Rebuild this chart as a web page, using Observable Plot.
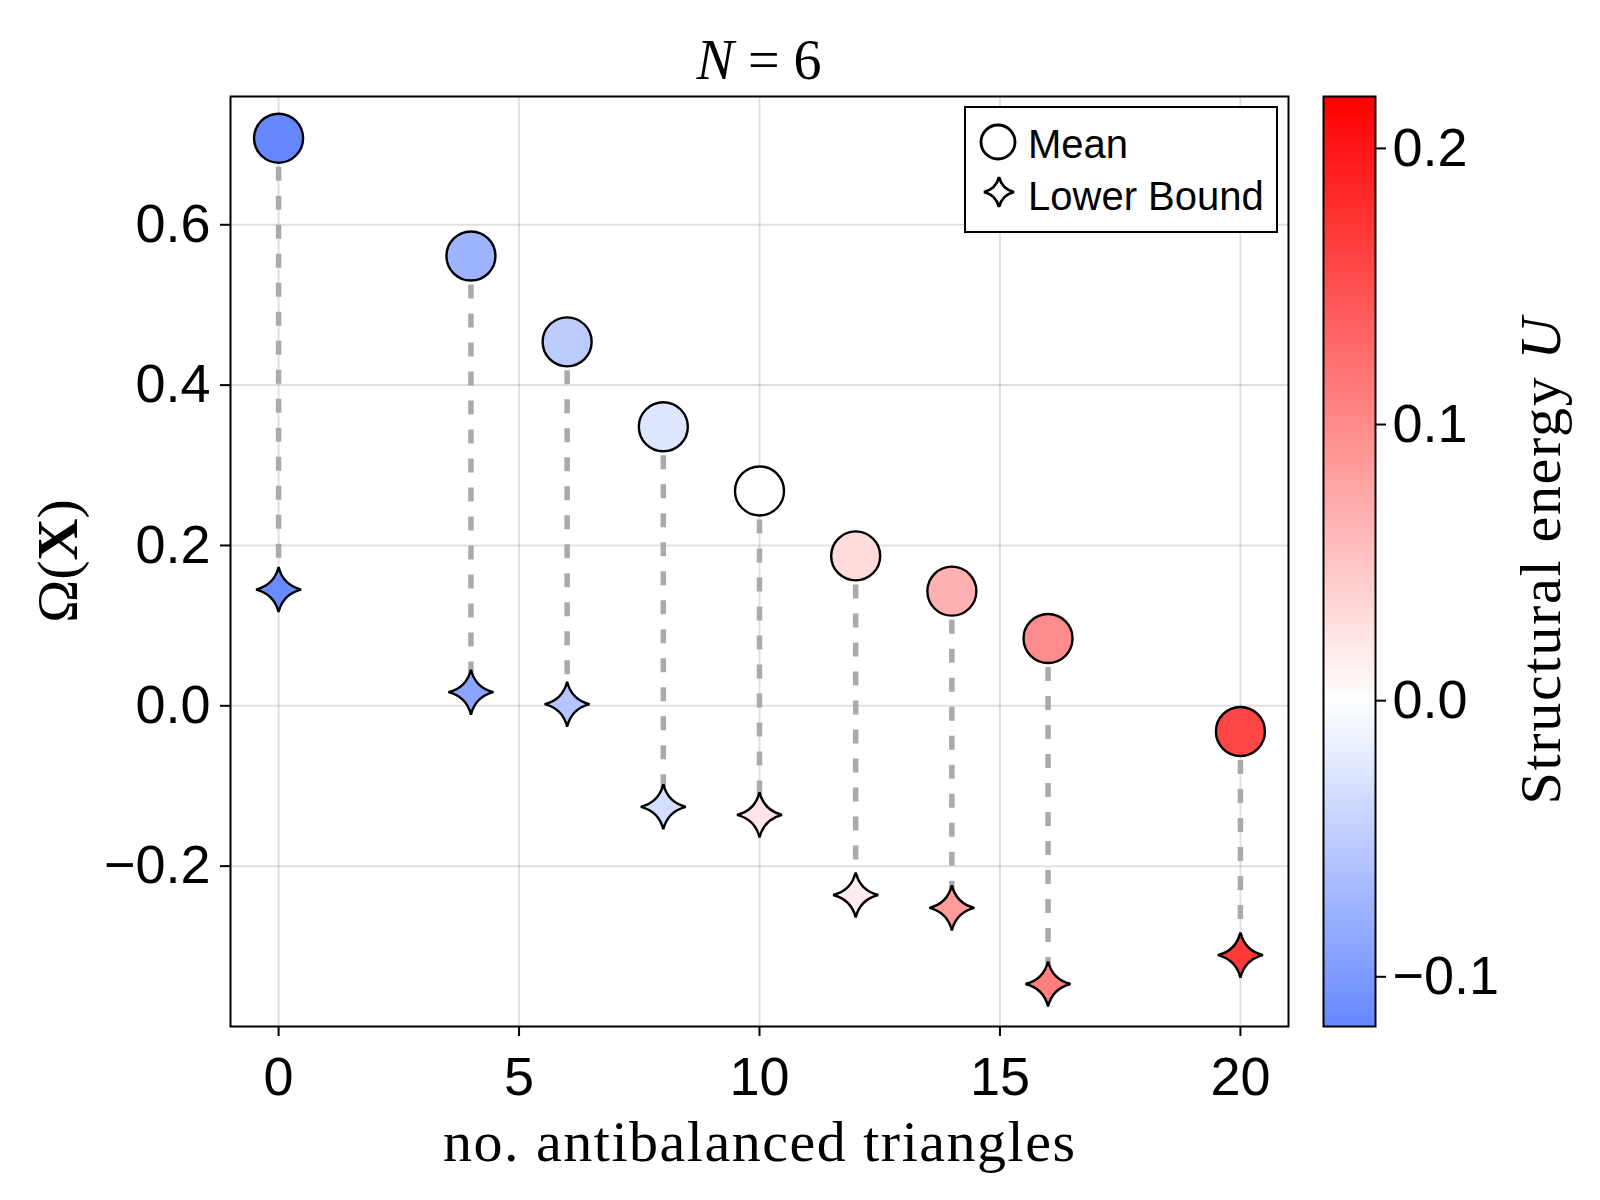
<!DOCTYPE html>
<html>
<head>
<meta charset="utf-8">
<script src="https://cdn.jsdelivr.net/npm/d3@7"></script>
<script src="https://cdn.jsdelivr.net/npm/@observablehq/plot@0.6"></script>
<style>
  html, body { margin: 0; padding: 0; background: #fff; }
  #chart { position: relative; width: 1600px; height: 1200px; background: #fff; }
  #chart svg { position: absolute; top: 0; }
</style>
</head>
<body>
<div id="chart"></div>
<script>
// ---- data ----
const nAnti      = [0, 4, 6, 8, 10, 12, 14, 16, 20];
const meanOmega  = [0.708, 0.561, 0.454, 0.348, 0.268, 0.187, 0.143, 0.084, -0.032];
const lowerOmega = [0.145, 0.017, 0.002, -0.126, -0.136, -0.236, -0.252, -0.347, -0.311];
const meanU      = [-0.118, -0.074, -0.051, -0.026, 0.000, 0.031, 0.067, 0.099, 0.160];
const lowerU     = [-0.115, -0.090, -0.058, -0.033, 0.023, 0.016, 0.086, 0.110, 0.171];

const xTicks  = [0, 5, 10, 15, 20];
const yTicks  = [-0.2, 0.0, 0.2, 0.4, 0.6];
const cbTicks = [-0.1, 0.0, 0.1, 0.2];
const xDomain = [-1, 21];
const yDomain = [-0.4, 0.76];
const uDomain = [-0.118, 0, 0.2188];
const uColors = ["#6688ff", "#ffffff", "#ff0000"];

const titleText = "N = 6";
const xLabel = "no. antibalanced triangles";
const cbLabel = "Structural energy ";
const legendLabels = ["Mean", "Lower Bound"];

const rows = nAnti.map((n, i) => ({n, mean: meanOmega[i], lower: lowerOmega[i], meanU: meanU[i], lowerU: lowerU[i]}));

// four-pointed star symbol with concave sides
const star4 = {
  draw(context, size) {
    const R = Math.sqrt(size / Math.PI);
    const c = 0.2 * R;
    context.moveTo(0, -R);
    context.quadraticCurveTo(c, -c, R, 0);
    context.quadraticCurveTo(c, c, 0, R);
    context.quadraticCurveTo(-c, c, -R, 0);
    context.quadraticCurveTo(-c, -c, 0, -R);
    context.closePath();
  }
};

const colorScale = {type: "linear", domain: uDomain, range: uColors, interpolate: "rgb"};
const baseStyle = {fontFamily: "'Liberation Sans', Arial, sans-serif", fontSize: "54px", color: "black", background: "transparent"};
const fmt = d3.format(".1f");

const main = Plot.plot({
  width: 1300, height: 1200,
  marginLeft: 230, marginRight: 12, marginTop: 96, marginBottom: 174,
  style: baseStyle,
  x: {domain: xDomain},
  y: {domain: yDomain},
  color: colorScale,
  marks: [
    Plot.gridX(xTicks, {stroke: "#000", strokeOpacity: 0.12, strokeWidth: 2}),
    Plot.gridY(yTicks, {stroke: "#000", strokeOpacity: 0.12, strokeWidth: 2}),
    Plot.ruleX(rows, {x: "n", y1: "mean", y2: "lower", stroke: "#aaaaaa", strokeWidth: 5.5, strokeDasharray: "14,15"}),
    Plot.dot(rows, {x: "n", y: "lower", symbol: star4, r: 22.5, fill: "lowerU", stroke: "black", strokeWidth: 2.4}),
    Plot.dot(rows, {x: "n", y: "mean", r: 24.5, fill: "meanU", stroke: "black", strokeWidth: 2.4}),
    Plot.frame({stroke: "black", strokeWidth: 2}),
    Plot.axisX(xTicks, {tickSize: 10, tickPadding: 20, label: null, strokeWidth: 2}),
    Plot.axisY(yTicks, {tickSize: 10, tickPadding: 10, tickFormat: fmt, label: null, strokeWidth: 2})
  ]
});
main.style.left = "0px";

const cbar = Plot.plot({
  width: 300, height: 1200,
  marginLeft: 23, marginRight: 225, marginTop: 96, marginBottom: 174,
  style: baseStyle,
  x: {domain: [0, 1], axis: null},
  y: {domain: [uDomain[0], uDomain[2]], axis: null},
  color: colorScale,
  marks: [
    Plot.raster({fill: (x, y) => y, x1: 0, x2: 1, y1: uDomain[0], y2: uDomain[2], width: 1, height: 600, imageRendering: "auto"}),
    Plot.frame({stroke: "black", strokeWidth: 2}),
    Plot.axisY(cbTicks, {anchor: "right", tickSize: 10, tickPadding: 7, tickFormat: fmt, label: null, strokeWidth: 2})
  ]
});
cbar.style.left = "1300px";

const chart = document.getElementById("chart");
chart.appendChild(main);
chart.appendChild(cbar);

// ---- titles and labels ----
const xs = main.scale("x"), ys = main.scale("y");
const xc = (xs.range[0] + xs.range[1]) / 2;
const yc = (ys.range[0] + ys.range[1]) / 2;
const serif = "'Liberation Serif', 'Times New Roman', serif";
const sm = d3.select(main);

const t = sm.append("text").attr("x", xc).attr("y", 79).attr("text-anchor", "middle")
  .attr("font-family", serif).attr("font-size", 56).attr("fill", "black");
t.append("tspan").attr("font-style", "italic").text(titleText.split(" ")[0]);
t.append("tspan").text(" " + titleText.split(" ").slice(1).join(" "));

sm.append("text").attr("x", xc).attr("y", 1161).attr("text-anchor", "middle")
  .attr("font-family", serif).attr("font-size", 58).attr("fill", "black")
  .attr("textLength", 632).attr("lengthAdjust", "spacing").text(xLabel);

const yl = sm.append("text").attr("transform", `translate(77,${yc}) rotate(-90)`).attr("text-anchor", "middle")
  .attr("font-family", serif).attr("font-size", 58).attr("fill", "black");
yl.append("tspan").text("Ω(");
yl.append("tspan").attr("font-weight", "bold").text("X");
yl.append("tspan").text(")");

// legend
const lg = sm.append("g").attr("text-anchor", "start");
lg.append("rect").attr("x", 965).attr("y", 107).attr("width", 312).attr("height", 125)
  .attr("fill", "white").attr("stroke", "black").attr("stroke-width", 2);
lg.append("circle").attr("cx", 998).attr("cy", 142).attr("r", 17)
  .attr("fill", "white").attr("stroke", "black").attr("stroke-width", 2.8);
const sp = d3.path(); star4.draw(sp, Math.PI * 15 * 15);
lg.append("path").attr("d", sp.toString()).attr("transform", "translate(999,192)")
  .attr("fill", "white").attr("stroke", "black").attr("stroke-width", 2.8);
lg.selectAll("text.lab").data(legendLabels).join("text").attr("class", "lab")
  .attr("x", 1028).attr("y", (d, i) => 158 + i * 52).attr("text-anchor", "start")
  .attr("font-family", "'Liberation Sans', Arial, sans-serif").attr("font-size", 40).attr("fill", "black")
  .text(d => d);

// colorbar label
const cs = d3.select(cbar);
const cl = cs.append("text").attr("transform", `translate(260,${yc}) rotate(-90)`).attr("text-anchor", "middle")
  .attr("font-family", serif).attr("font-size", 58).attr("fill", "black")
  .attr("textLength", 487).attr("lengthAdjust", "spacing");
cl.append("tspan").text(cbLabel);
cl.append("tspan").attr("font-style", "italic").text("U");
</script>
</body>
</html>
